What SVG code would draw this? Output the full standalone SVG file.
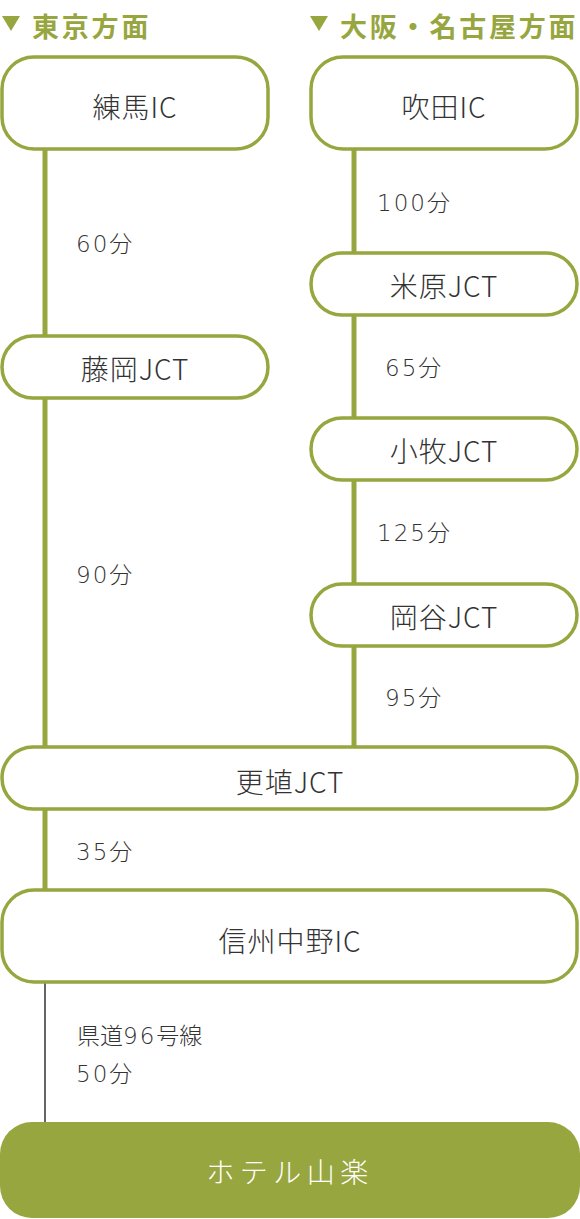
<svg xmlns="http://www.w3.org/2000/svg" width="580" height="1219" viewBox="0 0 580 1219">
<style>
.node{fill:#fff;stroke:#97a63e;stroke-width:3.5}
.lbl{font-family:"Noto Sans CJK JP","Noto Sans",sans-serif;font-size:28px;font-weight:300;letter-spacing:1px;fill:#333;text-anchor:middle;dominant-baseline:central}
.min{font-family:"DejaVu Sans","Noto Sans CJK JP",sans-serif;font-size:23px;font-weight:300;fill:#333;dominant-baseline:central}
.d{letter-spacing:2px}
.hdr{font-family:"Noto Sans CJK JP","Noto Sans",sans-serif;font-size:27px;font-weight:bold;fill:#97a63e;letter-spacing:2.8px;dominant-baseline:central}
.road{stroke:#97a63e;stroke-width:5;fill:none}
</style>
<g id="headers">
<polygon points="2,16 20,16 11,31" fill="#97a63e"/>
<text class="hdr" x="32" y="25">東京方面</text>
<polygon points="310,16 328,16 319,31" fill="#97a63e"/>
<text class="hdr" x="340" y="25">大阪・名古屋方面</text>
</g>
<g id="connectors">
<line class="road" x1="45" y1="150" x2="45" y2="336"/>
<line class="road" x1="45" y1="398" x2="45" y2="747"/>
<line class="road" x1="45" y1="810" x2="45" y2="890"/>
<line class="road" x1="354" y1="150" x2="354" y2="253"/>
<line class="road" x1="354" y1="316" x2="354" y2="418"/>
<line class="road" x1="354" y1="481" x2="354" y2="584"/>
<line class="road" x1="354" y1="646" x2="354" y2="747"/>
<line x1="45" y1="983" x2="45" y2="1122" stroke="#333" stroke-width="1.5"/>
<text class="min" x="76" y="244"><tspan class="d">60</tspan>分</text>
<text class="min" x="76" y="575"><tspan class="d">90</tspan>分</text>
<text class="min" x="76" y="852"><tspan class="d">35</tspan>分</text>
<text class="min" x="77" y="1036">県道<tspan class="d">96</tspan>号線</text>
<text class="min" x="76" y="1074"><tspan class="d">50</tspan>分</text>
<text class="min" x="377" y="203"><tspan class="d">100</tspan>分</text>
<text class="min" x="385" y="368"><tspan class="d">65</tspan>分</text>
<text class="min" x="377" y="533"><tspan class="d">125</tspan>分</text>
<text class="min" x="385" y="698"><tspan class="d">95</tspan>分</text>
</g>
<g id="n-nerima"><rect class="node" x="2" y="57" width="266" height="92" rx="32"/><text class="lbl" x="135" y="106">練馬IC</text></g>
<g id="n-fujioka"><rect class="node" x="2" y="336" width="266" height="62" rx="31"/><text class="lbl" x="135" y="368">藤岡JCT</text></g>
<g id="n-suita"><rect class="node" x="311" y="57" width="266" height="92" rx="32"/><text class="lbl" x="444" y="106">吹田IC</text></g>
<g id="n-maibara"><rect class="node" x="311" y="253" width="266" height="62" rx="31"/><text class="lbl" x="444" y="285">米原JCT</text></g>
<g id="n-komaki"><rect class="node" x="311" y="418" width="266" height="62" rx="31"/><text class="lbl" x="444" y="450">小牧JCT</text></g>
<g id="n-okaya"><rect class="node" x="311" y="584" width="266" height="62" rx="31"/><text class="lbl" x="444" y="616">岡谷JCT</text></g>
<g id="n-koshoku"><rect class="node" x="2" y="747" width="575" height="62" rx="31"/><text class="lbl" x="290" y="781">更埴JCT</text></g>
<g id="n-shinshunakano"><rect class="node" x="2" y="890" width="575" height="92" rx="32"/><text class="lbl" x="290" y="940">信州中野IC</text></g>
<g id="n-hotel"><rect x="0" y="1122" width="580" height="96" rx="32" fill="#97a63e"/><text class="lbl" x="290" y="1171" style="fill:#fff;letter-spacing:5.5px">ホテル山楽</text></g>
</svg>
